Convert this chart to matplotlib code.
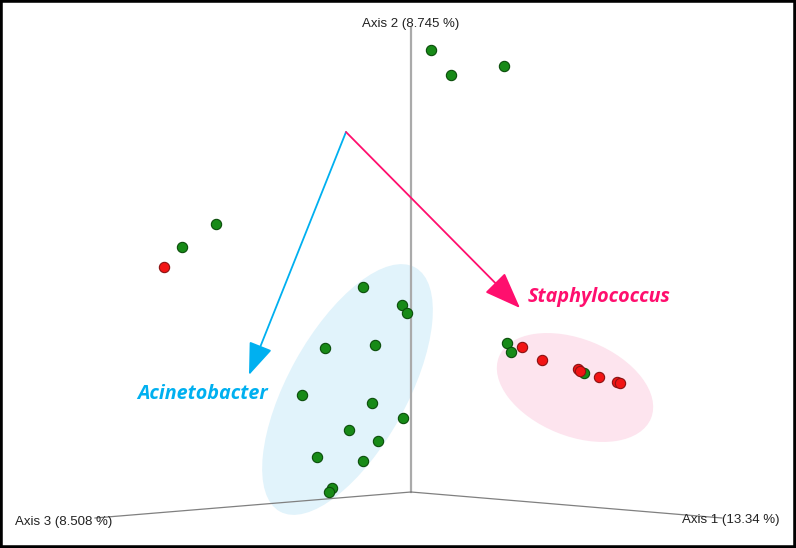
import matplotlib.pyplot as plt
from matplotlib.patches import Ellipse, FancyArrowPatch

# sample positions (pixel-like units)
green_x = [431, 451, 504, 216, 182,
           363, 402, 407, 325, 375, 302, 372, 403, 349, 378, 317, 363, 332, 329,
           507, 511, 584]
green_y = [50, 75, 66, 224, 247,
           287, 305, 313, 348, 345, 395, 403, 418, 430, 441, 457, 461, 488, 492,
           343, 352, 373]
red_x = [164, 522, 542, 578, 580, 599, 617, 620]
red_y = [267, 347, 360, 369, 371, 377, 382, 383]

axis_labels = ["Axis 1 (13.34 %)", "Axis 2 (8.745 %)", "Axis 3 (8.508 %)"]
taxa = ["Acinetobacter", "Staphylococcus"]

blue = '#00b0f0'
pink = '#ff0f6e'

fig = plt.figure(figsize=(7.96, 5.48), dpi=100)
ax = fig.add_axes([0, 0, 1, 1])
ax.set_xlim(0, 796)
ax.set_ylim(548, 0)
ax.set_xticks([])
ax.set_yticks([])
for s in ax.spines.values():
    s.set_color('black')
    s.set_linewidth(4)

# cluster ellipses
ax.add_patch(Ellipse((347.5, 389.5), 279, 119, angle=-61, facecolor='#e1f3fb',
                     edgecolor='none', zorder=1))
ax.add_patch(Ellipse((575, 387.5), 164, 97, angle=22, facecolor='#fde4ee',
                     edgecolor='none', zorder=1))

# 3D axes
ax.plot([411, 411], [28, 492], color='#aaaaaa', lw=1.6, zorder=2)
ax.plot([411, 95], [492, 518], color='#808080', lw=0.9, zorder=2)
ax.plot([411, 722], [492, 518], color='#808080', lw=0.9, zorder=2)

lab_font = dict(family='Liberation Sans', fontsize=9.5, color='#222222', zorder=5)
ax.text(411, 24, axis_labels[1], ha='center', va='center', **lab_font)
ax.text(15, 522, axis_labels[2], ha='left', va='center', **lab_font)
ax.text(780, 520, axis_labels[0], ha='right', va='center', **lab_font)

# samples
ax.scatter(green_x, green_y, s=55, color='#178a17', edgecolor='#0b4d0b', lw=0.8, zorder=3)
ax.scatter(red_x, red_y, s=55, color='#f21414', edgecolor='#8a1212', lw=0.8, zorder=3)

# biplot arrows
origin = (346, 132)
ax.add_patch(FancyArrowPatch(origin, (249, 375), arrowstyle='-|>,head_length=20,head_width=7.5',
                             mutation_scale=1, shrinkA=0, shrinkB=0, color=blue, lw=1.3, zorder=4))
ax.add_patch(FancyArrowPatch(origin, (520, 308), arrowstyle='-|>,head_length=23,head_width=8.8',
                             mutation_scale=1, shrinkA=0, shrinkB=0, color=pink, lw=1.3, zorder=4))

tax_font = dict(family='Open Sans', fontsize=14.2, fontweight='bold', fontstyle='italic', zorder=5)
ax.text(203, 394, taxa[0], ha='center', va='center', color=blue, **tax_font)
ax.text(599, 297, taxa[1], ha='center', va='center', color=pink, **tax_font)

fig.savefig('out.png', dpi=100)
